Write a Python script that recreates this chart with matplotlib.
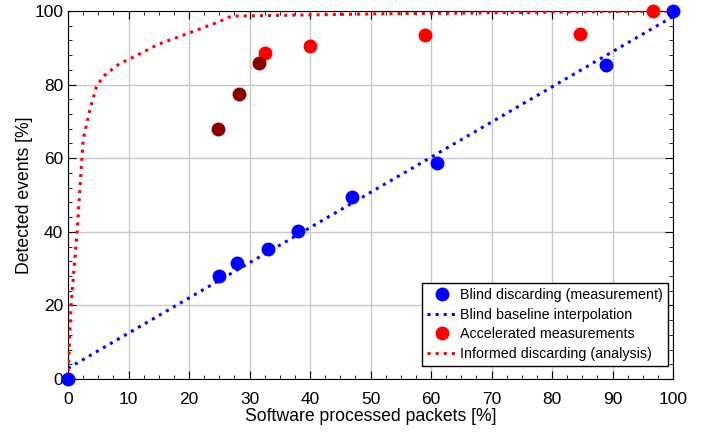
import numpy as np
import matplotlib.pyplot as plt
from matplotlib.ticker import MultipleLocator

plt.rcParams['font.family'] = ['Liberation Sans', 'DejaVu Sans']

# blind discarding measurements
blind_x = [0, 25, 28, 33, 38, 47, 61, 89, 100]
blind_y = [0, 28, 31.4, 35.4, 40.1, 49.5, 58.8, 85.2, 100]

# linear baseline through the blind measurements
base_x = [0, 100]
base_y = [2.9, 98.5]

# accelerated measurements
acc_x = [32.6, 40, 59, 84.7, 96.7]
acc_y = [88.7, 90.6, 93.5, 93.7, 100]
acc_dark_x = [24.8, 28.3, 31.6]
acc_dark_y = [67.8, 77.4, 85.8]

# informed discarding, analytical curve
inf_x = [0, 0.5, 1.5, 2.3, 2.5, 3.6, 4.7, 5.8, 8.6, 10, 15, 20, 25, 27, 50, 100]
inf_y = [0, 20, 40, 60, 65, 73, 79.4, 82.2, 85.8, 86.8, 91, 94, 97.1, 98.6, 99.2, 100]

fig = plt.figure(figsize=(7.04, 4.36), dpi=100)
ax = fig.add_axes([0.0966, 0.1307, 0.8594, 0.8441])

ms = 9
ax.plot(blind_x, blind_y, 'o', color='#0000ff', ms=ms, label='Blind discarding (measurement)',
        zorder=4, clip_on=False)
ax.plot(base_x, base_y, ':', color='#0000ff', lw=2.2, label='Blind baseline interpolation', zorder=3)
ax.plot(acc_x, acc_y, 'o', color='#ff0000', ms=ms, label='Accelerated measurements',
        zorder=4, clip_on=False)
ax.plot(acc_dark_x, acc_dark_y, 'o', color='#8b0000', ms=ms, zorder=4)
ax.plot(inf_x, inf_y, ':', color='#ff0000', lw=2.2, label='Informed discarding (analysis)', zorder=3)

ax.set_xlim(0, 100)
ax.set_ylim(0, 100)
ax.xaxis.set_major_locator(MultipleLocator(10))
ax.xaxis.set_minor_locator(MultipleLocator(2.5))
ax.yaxis.set_major_locator(MultipleLocator(20))
ax.yaxis.set_minor_locator(MultipleLocator(4))
ax.tick_params(which='both', direction='in', top=True, right=True, labelsize=12.5)
ax.tick_params(which='major', length=6)
ax.tick_params(which='minor', length=3)
ax.tick_params(axis='x', which='major', pad=9)
ax.grid(True, which='major', color='#c8c8c8', lw=1)
ax.set_axisbelow(True)

ax.set_xlabel('Software processed packets [%]', fontsize=12.7, labelpad=1)
ax.set_ylabel('Detected events [%]', fontsize=12.7, labelpad=0.5)

leg = ax.legend(loc='lower right', bbox_to_anchor=(0.992, 0.035), borderaxespad=0,
                fontsize=10.3, fancybox=False, framealpha=1, edgecolor='black',
                handlelength=2.1, handletextpad=0.25, borderpad=0.35, labelspacing=0.4)
leg.get_frame().set_linewidth(1)

fig.savefig('out.png', dpi=100)
